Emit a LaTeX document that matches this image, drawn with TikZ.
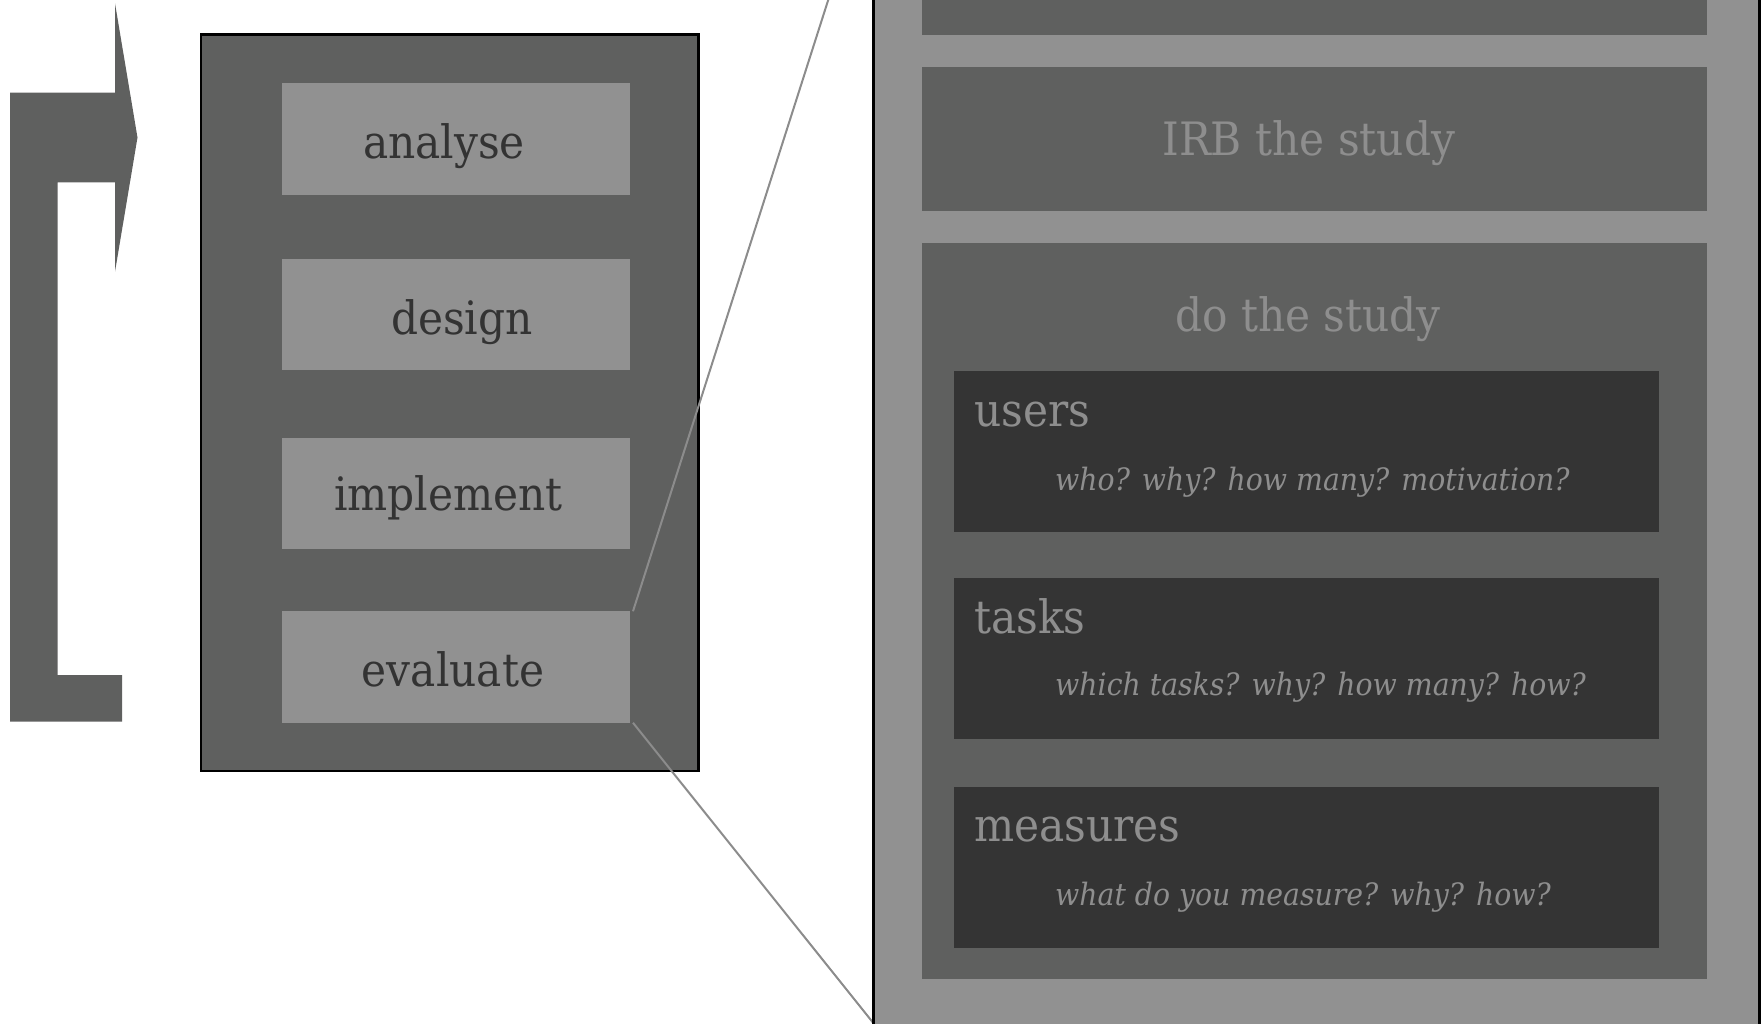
\documentclass[tikz,border=0pt]{standalone}
\usepackage{fontspec}
\setmainfont{DejaVu Serif}[FakeStretch=0.92]
\definecolor{midgray}{HTML}{5F605F}
\definecolor{litegray}{HTML}{919191}
\definecolor{deepgray}{HTML}{343434}
\definecolor{labeldark}{HTML}{333333}
\definecolor{labellite}{HTML}{8E8E8E}
\definecolor{linegray}{HTML}{8C8C8C}
\tikzset{
  blk/.style={rectangle, inner sep=0pt, outer sep=0pt, draw=none},
  phasebox/.style={blk, fill=litegray, minimum width=348pt, minimum height=111.5pt},
  innerbox/.style={blk, fill=midgray, minimum width=785pt},
  qbox/.style={blk, fill=deepgray, minimum width=704.5pt},
  bigtxt/.style={inner sep=0pt, anchor=base, font=\fontsize{46}{50}\selectfont},
  phasetxt/.style={bigtxt, text=labeldark},
  headtxt/.style={bigtxt, text=labellite},
  subhead/.style={bigtxt, anchor=base west, text=labellite},
  qtxt/.style={inner sep=0pt, anchor=base west, text=labellite, font=\fontsize{30.8}{34}\selectfont\itshape},
  conn/.style={draw=linegray, line width=2pt},
}
\begin{document}
\begin{tikzpicture}[x=1pt,y=-1pt]
\useasboundingbox (0,0) rectangle (1762,1023);
\clip (0,0) rectangle (1762,1023);

% loop arrow
\fill[midgray] (10,721.5) -- (10,92.7) -- (115,92.7) -- (115,3.3) -- (137.5,137.5)
  -- (115,271.7) -- (115,182.3) -- (57.7,182.3) -- (57.7,675) -- (122,675)
  -- (122,721.5) -- cycle;

% left process box
\node[blk, fill=midgray, draw=black, line width=2.5pt, minimum width=497.5pt, minimum height=736.3pt] (process) at (449.75,402.85) {};
\node[phasebox] (analyseBox) at (456,138.8) {};
\node[phasebox] (designBox) at (456,314.5) {};
\node[phasebox] (implementBox) at (456,493.7) {};
\node[phasebox] (evaluate) at (456,667) {};
\node[phasetxt] (analyseT) at (444,158) {analyse};
\node[phasetxt] (designT) at (462,334) {design};
\node[phasetxt] (implementT) at (448.6,510) {implement};
\node[phasetxt] (evaluateT) at (453,686) {evaluate};

% zoom connectors
\coordinate (zt) at (873.3,-141.2);
\coordinate (zb) at (873.3,1023);
\draw[conn] ([xshift=3pt]evaluate.north east) -- (zt);
\draw[conn] ([xshift=3pt]evaluate.south east) -- (zb);

% right zoomed panel
\node[blk, fill=litegray, draw=black, line width=2.8pt, minimum width=886pt, minimum height=1181pt] (panel) at (1316.3,449.5) {};
\node[innerbox, minimum height=134.7pt] (prevBox) at (1314.5,-32.65) {};
\node[innerbox, minimum height=143.7pt] (irbBox) at (1314.5,138.85) {};
\node[innerbox, minimum height=735.5pt] (doBox) at (1314.5,610.75) {};
\node[headtxt] (irbT) at (1308.8,155) {IRB the study};
\node[headtxt] (doT) at (1308,331.7) {do the study};

\node[qbox, minimum height=161.3pt] (usersBox) at (1306.25,451.35) {};
\node[qbox, minimum height=160.7pt] (tasksBox) at (1306.25,658.35) {};
\node[qbox, minimum height=160.8pt] (measuresBox) at (1306.25,867.1) {};
\node[subhead] (usersT) at (974,426.7) {users};
\node[qtxt] (usersQ) at (1055,490) {who? why? how many? motivation?};
\node[subhead] (tasksT) at (974,633.3) {tasks};
\node[qtxt] (tasksQ) at (1055,695) {which tasks? why? how many? how?};
\node[subhead] (measuresT) at (974,841.7) {measures};
\node[qtxt] (measuresQ) at (1055,905) {what do you measure? why? how?};
\end{tikzpicture}
\end{document}
